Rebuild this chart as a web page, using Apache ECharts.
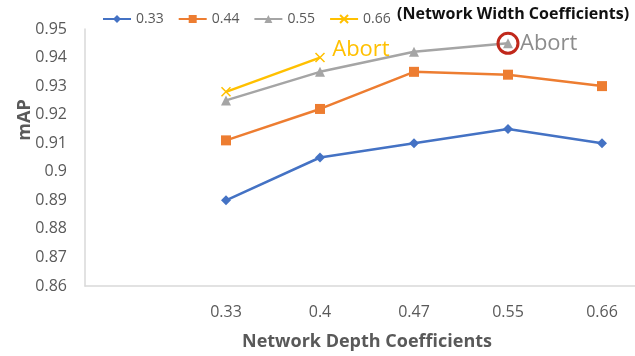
<!DOCTYPE html>
<html>
<head>
<meta charset="utf-8">
<script src="https://cdn.jsdelivr.net/npm/echarts@6/dist/echarts.min.js"></script>
<style>
  html, body { margin: 0; padding: 0; background: #fff; }
  #chart { width: 635px; height: 356px; }
</style>
</head>
<body>
<div id="chart"></div>
<script>
// depth coefficients (first slot left empty, as in the original)
var depths = ['', '0.33', '0.4', '0.47', '0.55', '0.66'];
var widthNames = ['0.33', '0.44', '0.55', '0.66'];
var w033 = ['-', 0.890, 0.905, 0.910, 0.915, 0.910];
var w044 = ['-', 0.911, 0.922, 0.935, 0.934, 0.930];
var w055 = ['-', 0.925, 0.935, 0.942, 0.945, '-'];
var w066 = ['-', 0.928, 0.940, '-', '-', '-'];
var colors = ['#4472C4', '#ED7D31', '#A5A5A5', '#FFC000'];
var font = 'Open Sans';

var chart = echarts.init(document.getElementById('chart'));

function abortLabel(value, color, offset){
  return {
    value: value,
    label: {
      show: true, position: 'right', formatter: 'Abort', color: color,
      fontSize: 22, fontFamily: font, offset: offset
    }
  };
}

var grayData = w055.slice();
grayData[4] = abortLabel(w055[4], '#8c8c8c', [2, 0]);
var yellowData = w066.slice();
yellowData[2] = abortLabel(w066[2], '#FFC000', [2, -8]);

var option = {
  color: colors,
  animation: false,
  textStyle: { fontFamily: font },
  grid: { left: 85, top: 29, width: 564, height: 257, outerBoundsMode: 'none' },
  legend: {
    left: 97, top: 7,
    itemWidth: 28, itemHeight: 10, itemGap: 14,
    textStyle: { fontSize: 14, color: '#595959', fontFamily: font },
    data: widthNames
  },
  xAxis: {
    type: 'category',
    data: depths,
    boundaryGap: true,
    axisLine: { lineStyle: { color: '#d9d9d9', width: 1.5 } },
    axisTick: { show: false },
    axisLabel: { fontSize: 16, color: '#595959', margin: 18, fontFamily: font },
    name: 'Network Depth Coefficients',
    nameLocation: 'middle',
    nameGap: 47,
    nameTextStyle: { fontSize: 18, fontWeight: 'bold', color: '#595959', fontFamily: font }
  },
  yAxis: {
    type: 'value',
    min: 0.86, max: 0.95, interval: 0.01,
    axisLine: { show: true, lineStyle: { color: '#d9d9d9', width: 1.5 } },
    axisTick: { show: false },
    splitLine: { show: false },
    axisLabel: {
      fontSize: 16, color: '#595959', margin: 18, fontFamily: font,
      formatter: function(v){ return String(parseFloat(v.toFixed(2))); }
    }
  },
  series: [
    {
      name: '0.33', type: 'line', data: w033,
      symbol: 'diamond', symbolSize: 10,
      lineStyle: { width: 2.5 }
    },
    {
      name: '0.44', type: 'line', data: w044,
      symbol: 'rect', symbolSize: 10,
      lineStyle: { width: 2.5 }
    },
    {
      name: '0.55', type: 'line', data: grayData,
      symbol: 'triangle', symbolSize: 10,
      lineStyle: { width: 2.5 },
      markPoint: {
        symbol: 'circle', symbolSize: 20,
        itemStyle: { color: 'rgba(0,0,0,0)', borderColor: '#C0281B', borderWidth: 3 },
        label: { show: false },
        data: [{ coord: ['0.55', w055[4]] }]
      }
    },
    {
      name: '0.66', type: 'line', data: yellowData,
      symbol: 'path://M0,0L10,10M10,0L0,10', symbolSize: 9,
      itemStyle: { color: 'rgba(0,0,0,0)', borderColor: '#FFC000', borderWidth: 1.5 },
      lineStyle: { width: 2.5, color: '#FFC000' }
    }
  ],
  graphic: [
    {
      type: 'text', left: 397, top: 6,
      style: { text: '(Network Width Coefficients)', fontSize: 16, fontWeight: 'bold', fill: '#111', fontFamily: font }
    },
    {
      type: 'text', x: 25, y: 120, rotation: Math.PI / 2,
      style: { text: 'mAP', fontSize: 18, fontWeight: 'bold', fill: '#595959', fontFamily: font, align: 'center', verticalAlign: 'middle' }
    }
  ]
};
chart.setOption(option);
</script>
</body>
</html>
